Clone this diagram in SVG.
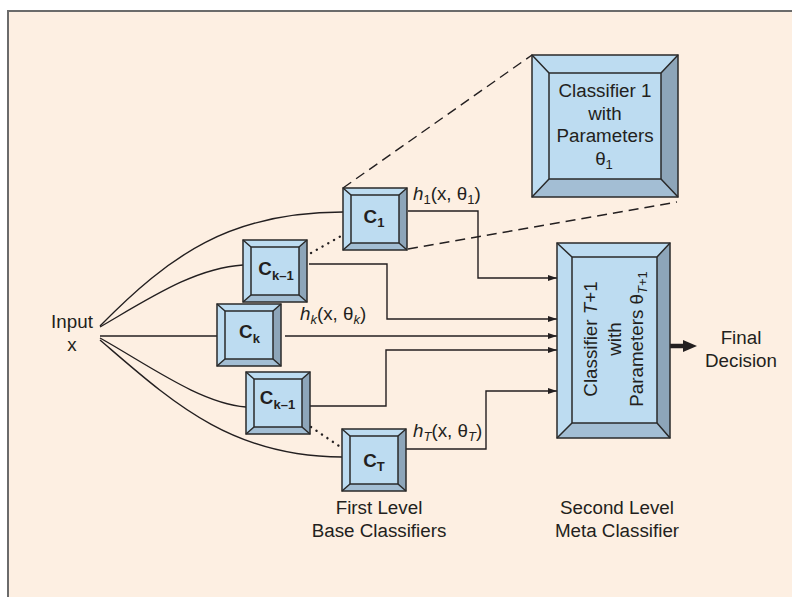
<svg xmlns="http://www.w3.org/2000/svg" width="792" height="597" viewBox="0 0 792 597">
<style>
text{font-family:"Liberation Sans",Arial,sans-serif;font-size:18.8px;fill:#231F20}
.c{text-anchor:middle}
.lbl{font-weight:bold}
.ln{fill:none;stroke:#231F20;stroke-width:1.4}
.dash{fill:none;stroke:#231F20;stroke-width:1.4;stroke-dasharray:10 6}
.dot{fill:none;stroke:#231F20;stroke-width:2.4;stroke-linecap:round;stroke-dasharray:0.1 6.5}
.face{fill:#BDDCF1}
.rb{fill:#8DA5B9}
.bb{fill:#A3BED4}
.ol{fill:none;stroke:#2A2A2A;stroke-width:1.5}
</style>
<defs>
<marker id="ah" markerUnits="userSpaceOnUse" markerWidth="10" markerHeight="7" refX="9" refY="3" orient="auto">
<path d="M0,0 L9,3 L0,6 z" fill="#231F20"/>
</marker>
<g id="sbox">
<rect class="face" x="0" y="0" width="64" height="62"/>
<polygon class="rb" points="64,0 64,62 56,55 56,7"/>
<polygon class="bb" points="0,62 64,62 56,55 8,55"/>
<rect class="ol" x="8" y="7" width="48" height="48"/>
<path class="ol" d="M0,0 L8,7 M64,0 L56,7 M0,62 L8,55 M64,62 L56,55"/>
<rect class="ol" x="0" y="0" width="64" height="62"/>
</g>
</defs>
<rect x="0" y="0" width="792" height="597" fill="#FFFFFF"/>
<rect x="8" y="11" width="790" height="590" fill="#FDEFE2"/>
<path d="M8,597 L8,11 L792,11" fill="none" stroke="#6B6B6B" stroke-width="2"/>

<g id="connectors">
<path class="dash" d="M343,188 L532,55"/>
<path class="dash" d="M408,249 L677,202"/>
<path class="dot" d="M311,253 L341,236"/>
<path class="dot" d="M311,427 L339,446"/>
<path class="ln" d="M100,326 C170,255 230,212 343,212"/>
<path class="ln" d="M100,327 C150,298 195,268 243,265"/>
<path class="ln" d="M100,336 L217,336"/>
<path class="ln" d="M100,338 C150,366 200,403 246,407"/>
<path class="ln" d="M100,340 C170,400 230,457 342,457"/>
<path class="ln" marker-end="url(#ah)" d="M408,211 L478,211 L478,278 L557,278"/>
<path class="ln" marker-end="url(#ah)" d="M309,264 L387,264 L387,319 L557,319"/>
<path class="ln" marker-end="url(#ah)" d="M285,336 L557,336"/>
<path class="ln" marker-end="url(#ah)" d="M309,406 L386,406 L386,350 L557,350"/>
<path class="ln" marker-end="url(#ah)" d="M406,449 L486,449 L486,391 L557,391"/>
<path d="M670,346 L686,346" stroke="#231F20" stroke-width="4.5" fill="none"/>
<polygon points="683,340 697,346 683,352" fill="#231F20"/>
</g>

<g id="input">
<text class="c" x="72" y="328">Input</text>
<text class="c" x="72" y="351">x</text>
</g>

<g id="c1">
<use href="#sbox" x="343" y="188"/>
<text class="c lbl" x="374" y="223">C<tspan font-size="13" dy="4">1</tspan></text>
</g>
<g id="ck1a">
<use href="#sbox" x="243" y="240"/>
<text class="c lbl" x="276" y="274.5">C<tspan font-size="13" dy="5">k–1</tspan></text>
</g>
<g id="ck">
<use href="#sbox" x="217" y="304"/>
<text class="c lbl" x="249.5" y="337.5">C<tspan font-size="13" dy="5">k</tspan></text>
</g>
<g id="ck1b">
<use href="#sbox" x="246" y="372"/>
<text class="c lbl" x="277.5" y="403.5">C<tspan font-size="13" dy="5">k–1</tspan></text>
</g>
<g id="ct">
<use href="#sbox" x="342" y="429"/>
<text class="c lbl" x="374" y="466.5">C<tspan font-size="13" dy="4">T</tspan></text>
</g>

<g id="labels">
<text x="413" y="200"><tspan font-style="italic">h</tspan><tspan font-size="13" dy="4">1</tspan><tspan dy="-4">(x, θ</tspan><tspan font-size="13" dy="4">1</tspan><tspan dy="-4">)</tspan></text>
<text x="300" y="320"><tspan font-style="italic">h</tspan><tspan font-size="13" dy="4" font-style="italic">k</tspan><tspan dy="-4">(x, θ</tspan><tspan font-size="13" dy="4" font-style="italic">k</tspan><tspan dy="-4">)</tspan></text>
<text x="413" y="437"><tspan font-style="italic">h</tspan><tspan font-size="13" dy="4" font-style="italic">T</tspan><tspan dy="-4">(x, θ</tspan><tspan font-size="13" dy="4" font-style="italic">T</tspan><tspan dy="-4">)</tspan></text>
<text class="c" x="379" y="514">First Level</text>
<text class="c" x="379" y="537">Base Classifiers</text>
<text class="c" x="617" y="514">Second Level</text>
<text class="c" x="617" y="537">Meta Classifier</text>
</g>

<g id="classifier1">
<rect class="face" x="532" y="55" width="146" height="142"/>
<polygon class="rb" points="678,55 678,197 661,179 661,73"/>
<polygon class="bb" points="532,197 678,197 661,179 549,179"/>
<rect class="ol" x="549" y="73" width="112" height="106"/>
<path class="ol" d="M532,55 L549,73 M678,55 L661,73 M532,197 L549,179 M678,197 L661,179"/>
<rect class="ol" x="532" y="55" width="146" height="142"/>
<text class="c" x="605" y="97">Classifier 1</text>
<text class="c" x="605" y="119.5">with</text>
<text class="c" x="605" y="142">Parameters</text>
<text class="c" x="604" y="164.5">θ<tspan font-size="13" dy="4">1</tspan></text>
</g>

<g id="meta">
<rect class="face" x="557" y="243" width="113" height="195"/>
<polygon class="rb" points="670,243 670,438 657,423 657,257"/>
<polygon class="bb" points="557,438 670,438 657,423 572,423"/>
<rect class="ol" x="572" y="257" width="85" height="166"/>
<path class="ol" d="M557,243 L572,257 M670,243 L657,257 M557,438 L572,423 M670,438 L657,423"/>
<rect class="ol" x="557" y="243" width="113" height="195"/>
<g transform="translate(614.5,339) rotate(-90)">
<text class="c" x="0" y="-17.5">Classifier <tspan font-style="italic">T</tspan>+1</text>
<text class="c" x="0" y="6.5">with</text>
<text class="c" x="0" y="28.5">Parameters θ<tspan font-size="13" dy="4"><tspan font-style="italic">T</tspan>+1</tspan></text>
</g>
</g>

<g id="final">
<text class="c" x="741" y="344">Final</text>
<text class="c" x="741" y="367">Decision</text>
</g>
</svg>
